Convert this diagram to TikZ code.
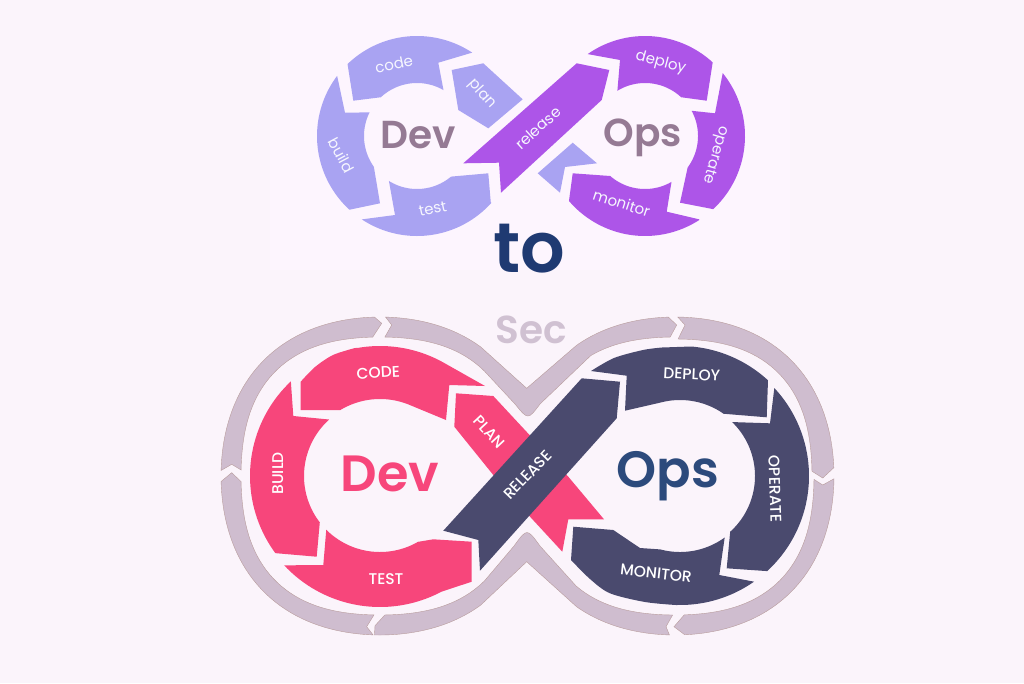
\documentclass[tikz,border=0pt]{standalone}
\usepackage{fontspec}
\setmainfont{Poppins}
\newfontfamily\headfont{Poppins SemiBold}
\newfontfamily\capsfont{Poppins Medium}
\definecolor{pagebg}{HTML}{FBF4FB}
\definecolor{topbg}{HTML}{FDF5FE}
\definecolor{lavender}{HTML}{A9A3F2}
\definecolor{violet}{HTML}{AD55E8}
\definecolor{hotpink}{HTML}{F7467B}
\definecolor{slate}{HTML}{4A4A6E}
\definecolor{loopgrey}{HTML}{CFBDCF}
\definecolor{loopedge}{HTML}{B89C9C}
\definecolor{mauve}{HTML}{957A94}
\definecolor{navy}{HTML}{1F3A72}
\definecolor{opsblue}{HTML}{2C4A7C}
\definecolor{secgrey}{HTML}{D0C1D2}
% arc of a circle: centre x, centre y, radius, from angle, to angle
\newcommand{\circarc}[5]{plot[domain=#4:#5,samples=40]({#1+#3*cos(\x)},{#2-#3*sin(\x)})}
\newcommand{\tocircarc}[5]{-- plot[domain=#4:#5,samples=40]({#1+#3*cos(\x)},{#2-#3*sin(\x)})}
% arc of the grey ring, a little fuller on the diagonals: centre x, radius, bulge, from, to
\newcommand{\ringarc}[5]{plot[domain=#4:#5,samples=40]({#1+(#2+#3*sin(2*\x)*sin(2*\x))*cos(\x)},{476-(#2+#3*sin(2*\x)*sin(2*\x))*sin(\x)})}
\newcommand{\toringarc}[5]{-- plot[domain=#4:#5,samples=40]({#1+(#2+#3*sin(2*\x)*sin(2*\x))*cos(\x)},{476-(#2+#3*sin(2*\x)*sin(2*\x))*sin(\x)})}
\tikzset{
  looppart/.style={fill=loopgrey,draw=loopedge,line width=0.4pt},
  smalllabel/.style={text=white!90!lavender,inner sep=0pt,font=\fontsize{15}{15}\selectfont},
  caplabel/.style={text=white,inner sep=0pt,font=\capsfont\fontsize{15.5}{16}\selectfont},
}
\begin{document}
\begin{tikzpicture}[x=1pt,y=-1pt]
	\useasboundingbox (0,0) rectangle (1024,683);
	\fill[pagebg] (0,0) rectangle (1024,683);
	\fill[topbg] (270,0) rectangle (790,270);

	% small loop, left
	\fill[lavender] \circarc{417}{136}{100}{134}{56.5} -- (438.3,62.7) \tocircarc{417}{136}{53}{60}{133} -- (353.3,100.7) -- cycle;
	\fill[lavender] (451.7,70) -- (483.3,63.3) -- (522.7,99.3) -- (488.3,128.3) -- (458.3,110) -- cycle;
	\fill[lavender] \circarc{417}{136}{100}{143}{227.5} -- (380,203.3) \tocircarc{417}{136}{53}{215.5}{153.5} -- (345,112.7) -- cycle;
	\fill[lavender] \circarc{417}{136}{53}{238}{310} -- (488.3,173.3) -- (490.7,201.7) \tocircarc{417}{136}{100}{318}{236.5} -- (395,215) -- cycle;
	\fill[lavender] (572.7,142.7) -- (597,163.3) -- (565,167) -- (560,192.7) -- (537.7,173.3) -- cycle;

	% small loop, right
	\fill[violet] (463.3,163.3) -- (576.7,63.3) -- (609.3,70) -- (601.7,100) -- (501,192.7) -- (499,162.7) -- cycle;
	\fill[violet] \circarc{645}{136}{100}{125}{47.4} -- (706.7,100.7) \tocircarc{645}{136}{53}{47}{121.4} -- (620,60) -- cycle;
	\fill[violet] \circarc{645}{136}{100}{39}{-47} -- (680,202.7) \tocircarc{645}{136}{53}{-36.4}{28.4} -- (715,113.3) -- cycle;
	\fill[violet] (572.7,173.3) \tocircarc{645}{136}{53}{229}{300} -- (666.7,211.7) -- (699,219.3) \tocircarc{645}{136}{100}{303}{220.5} -- cycle;

	\node (topdev) at (418,135) [text=mauve,inner sep=0pt,font=\headfont\fontsize{39}{39}\selectfont]{Dev};
	\node (topops) at (643,138) [text=mauve,inner sep=0pt,font=\headfont\fontsize{39}{39}\selectfont]{Ops};
	\node (topcode) at (394,64) [smalllabel,rotate=12]{code};
	\node (topplan) at (482,94) [smalllabel,rotate=-48]{plan};
	\node (topbuild) at (341.7,155) [smalllabel,rotate=-62]{build};
	\node (toptest) at (432.7,209) [smalllabel,rotate=12]{test};
	\node (toprelease) at (538,128) [smalllabel,rotate=42]{release};
	\node (topdeploy) at (660.7,63) [smalllabel,rotate=-15]{deploy};
	\node (topoperate) at (715,155) [smalllabel,rotate=-106]{operate};
	\node (topmonitor) at (621.7,203) [smalllabel,rotate=-18]{monitor};

	\node (towrd) at (529,249) [text=navy,inner sep=0pt,font=\headfont\fontsize{70}{70}\selectfont]{to};
	\node (secwrd) at (531,330) [text=secgrey,inner sep=0pt,font=\headfont\fontsize{39}{39}\selectfont]{Sec};

	% grey ring
	\filldraw[looppart] \ringarc{380}{159}{5}{178}{92} -- (381.7,323.3) \toringarc{380}{139}{9}{93}{177.5} -- (231.7,464.3) -- cycle;
	\filldraw[looppart] \ringarc{380}{159}{5}{88}{52} -- (526.7,388.3) \toringarc{675}{159}{5}{127}{92.4} -- (676.7,325) \toringarc{675}{139}{9}{92}{125} -- (540,404) .. controls (528,420) .. (515,404) \toringarc{380}{139}{9}{45}{88} -- (391.7,325) -- cycle;
	\filldraw[looppart] \ringarc{675}{159}{5}{89}{3} -- (822.7,478) \toringarc{675}{137}{9}{2}{88.7} -- (685,325) -- cycle;
	\filldraw[looppart] \ringarc{675}{159}{5}{-1}{-86.5} -- (674,626.7) \toringarc{675}{139}{9}{-86.2}{-1.4} -- (822.7,485) -- cycle;
	\filldraw[looppart] \ringarc{675}{139}{9}{269}{228} -- (540,546) .. controls (527,528) .. (514,546) \toringarc{380}{139}{9}{-45}{-88} -- (375,625.7) \toringarc{380}{159}{5}{268}{308} -- (526.7,561.7) \toringarc{675}{159}{5}{233}{268} -- (666,626.7) -- cycle;
	\filldraw[looppart] \ringarc{380}{159}{5}{182}{267.5} -- (366.7,626.7) \toringarc{380}{139}{9}{267.5}{182.3} -- (231.7,472.7) -- cycle;

	% big loop, left
	\fill[hotpink] (456,393.3) -- (493.3,396) -- (568.3,476.7) -- (604,519.3) -- (568.3,519.3) -- (562.3,551.7) -- (530,516.7) -- (493.3,475) -- (454.3,426.7) -- cycle;
	\fill[hotpink] plot[smooth] coordinates {(300.7,381.7)(315,367)(333,355)(355,348)} \tocircarc{380}{476}{130}{100}{60} -- (485,386) -- (449.3,385) -- (446,420) \tocircarc{380}{476}{77}{68}{121} -- (300.7,410) -- cycle;
	\fill[hotpink] \circarc{380}{476}{130}{133.3}{216.4} -- (316.7,556.7) \tocircarc{380}{476}{76}{217.6}{132} -- (293.3,416) -- cycle;
	\fill[hotpink] \circarc{380}{476}{76}{225}{300} -- (433.3,539.3) -- (471.7,541.7) -- (471.7,581.7) \tocircarc{380}{476}{131}{298}{223} -- (323.3,565) -- cycle;

	% big loop, right
	\fill[slate] (443.3,530.7) -- (581.7,378.3) -- (620,381.7) -- (616.7,418.3) -- (480,570.7) -- (478.3,540) -- cycle;
	\fill[slate] plot[smooth] coordinates {(591,371)(614,358)(643,350)(662,347.5)} \tocircarc{680}{476}{130}{85}{47.4} -- (766.7,417.3) \tocircarc{680}{476}{76}{55}{105} -- (625,410.7) -- (626.7,375.7) -- cycle;
	\fill[slate] \circarc{680}{476}{129}{43}{-47.5} -- (726.7,568.3) \tocircarc{680}{476}{75}{-48}{46} -- (770,423.3) -- cycle;
	\fill[slate] (573.3,526.7) -- (613.3,530) -- (640,548) \tocircarc{680}{476}{76}{255}{306} -- (719.3,575) \tocircarc{680}{476}{129}{305}{272} -- plot[smooth] coordinates {(676,605)(645,602)(610,593.3)(590,579)(571,560)} -- cycle;

	\node (lowdev) at (390,474) [text=hotpink,inner sep=0pt,font=\headfont\fontsize{51}{51}\selectfont]{Dev};
	\node (lowops) at (667.7,475.7) [text=opsblue,inner sep=0pt,font=\headfont\fontsize{51}{51}\selectfont]{Ops};
	\node (lowcode) at (378.3,372.7) [caplabel,rotate=3]{CODE};
	\node (lowplan) at (489.3,431.7) [caplabel,rotate=-47]{PLAN};
	\node (lowbuild) at (277.7,473.3) [caplabel,rotate=90]{BUILD};
	\node (lowtest) at (386,579.3) [caplabel]{TEST};
	\node (lowrelease) at (527.5,475) [caplabel,rotate=46]{RELEASE};
	\node (lowdeploy) at (691.7,374.3) [caplabel,rotate=-3]{DEPLOY};
	\node (lowoperate) at (775,489) [caplabel,rotate=-88]{OPERATE};
	\node (lowmonitor) at (656,573.3) [caplabel,rotate=-6]{MONITOR};
\end{tikzpicture}
\end{document}
